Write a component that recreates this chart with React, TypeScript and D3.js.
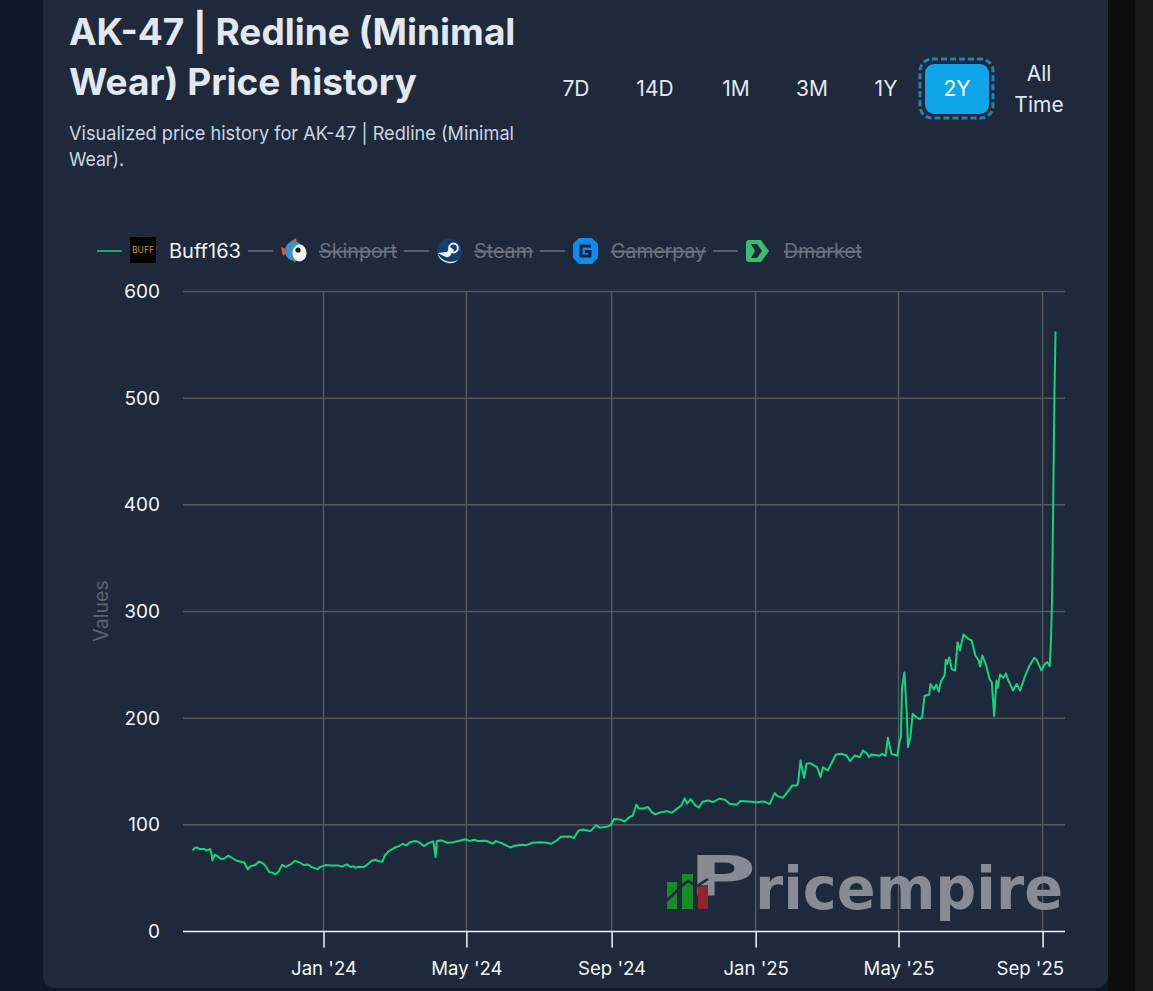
import * as d3 from "d3";
import {useEffect, useRef} from "react";

const ranges = ["7D", "14D", "1M", "3M", "1Y", "2Y"];
const legendNames = ["Buff163", "Skinport", "Steam", "Gamerpay", "Dmarket"];
const yTicks = [0, 100, 200, 300, 400, 500, 600];
const xTicks = [new Date(2024, 0, 1), new Date(2024, 4, 1), new Date(2024, 8, 1), new Date(2025, 0, 1), new Date(2025, 4, 2), new Date(2025, 8, 1)];

// days counted from 1 Jan 2024
const priceDays = [
  -111, -109, -107, -105, -101, -99, -96, -95, -94, -92, -90, -87, -84, -81, -79, -74, -70, -67, -64, -62,
  -57, -55, -52, -49, -46, -43, -41, -38, -35, -32, -28, -24, -19, -17, -13, -10, -5, -3, 2, 6,
  12, 16, 20, 23, 25, 27, 30, 34, 37, 41, 44, 47, 50, 52, 55, 60, 64, 67, 70, 73,
  78, 81, 85, 89, 93, 95, 96, 100, 105, 110, 116, 120, 124, 127, 131, 138, 143, 146, 151, 158,
  162, 168, 172, 177, 184, 189, 193, 198, 201, 209, 212, 216, 220, 226, 231, 234, 239, 243, 246, 251,
  255, 259, 262, 265, 267, 271, 275, 278, 281, 285, 291, 295, 299, 303, 306, 308, 311, 315, 318, 321,
  326, 330, 335, 340, 344, 350, 353, 360, 367, 373, 378, 382, 385, 389, 395, 397, 401, 402, 404, 407,
  409, 412, 418, 421, 423, 427, 430, 434, 439, 443, 446, 450, 454, 457, 460, 462, 464, 471, 473, 476,
  478, 481, 486, 488, 489, 490, 492, 494, 495, 497, 499, 502, 505, 507, 509, 513, 514, 517, 519, 521,
  523, 526, 527, 528, 530, 532, 535, 537, 539, 542, 546, 549, 552, 555, 556, 558, 561, 564, 566, 568,
  570, 571, 573, 576, 578, 580, 584, 587, 590, 594, 598, 602, 604, 608, 611, 613, 615, 616, 617, 618, 619, 620,
];
const priceValues = [
  75.9, 78.4, 78.7, 77.2, 77.2, 75.9, 77.2, 73.4, 66.5, 71.9, 70.9, 67.8, 68.4, 70.9, 70, 66.5, 65.3, 64.4, 58.1, 60.9,
  62.8, 65.3, 64.4, 61.2, 55.6, 55, 53.4, 56.2, 62.5, 60.6, 62.8, 66.2, 64, 62.2, 62.8, 60.3, 58.4, 60.3, 62.2, 61.9,
  61.9, 60.9, 62.8, 60.3, 61.2, 59.7, 60.6, 60.3, 62.5, 66.5, 67.2, 65.6, 65.6, 71.2, 75, 78.4, 80, 82.2, 80.6, 83.7,
  84.7, 83.7, 80, 82.8, 84.4, 69.7, 84.7, 85.3, 83.1, 83.7, 85.3, 86.5, 84.7, 85.9, 84.7, 85, 82.2, 84.7, 82.8, 78.7,
  80.3, 81.2, 80.9, 83.1, 83.7, 83.1, 82.2, 85.6, 88.7, 89, 87.5, 94.7, 95.6, 94, 99.7, 97.2, 97.8, 99.4, 105.3, 105,
  103.1, 107.2, 108.7, 119, 115.3, 115.3, 116.6, 111.9, 109.7, 111.5, 112.8, 111.2, 114.7, 118, 124.7, 119.7, 124, 118, 116.2, 121.5,
  122.8, 121.2, 124.4, 123.4, 119.7, 118.7, 122.2, 121.9, 121.2, 121.9, 119.4, 129.7, 126.6, 125.3, 133.7, 136.9, 136.9, 140, 160.3, 144,
  157.2, 157.8, 154, 144.7, 154, 150.9, 157.2, 165.9, 166.5, 165, 159.7, 165, 163.4, 169.7, 167.2, 163.4, 165.9, 164.7, 166.5, 164.7,
  181.5, 166.5, 164.7, 179, 182, 229, 242.8, 204, 172.8, 182, 204, 201, 199, 201, 221, 222, 232, 227, 231.5, 225,
  234.7, 240, 254.7, 251, 257, 246, 244.7, 271, 263.4, 278.4, 274.4, 272.8, 258.7, 254, 248.4, 258.7, 250.3, 236.9, 233.7, 202,
  235.3, 228.4, 241, 237.8, 242, 235.3, 226, 232, 226, 239, 249.4, 256.5, 254.7, 244.7, 250.9, 252.5, 248.7, 269.7, 310.3, 400, 500, 562.5,
];

const uiFont = "Inter, 'Noto Sans', sans-serif";
const left = 183, right = 1065, top = 291.6, bottom = 931.4;
const gridColor = "#55585f";
const lineColor = "#10d67f";
const mutedText = "#6b7280";
const cardColor = "#1e293b";

const rangeX = [576, 655, 736, 812, 886, 957];
const legendLineX = [97, 248, 404, 540, 713];
const legendIconX = [130, 281, 437, 573, 746];
const legendTextX = [169, 319, 474, 611, 784];
const legendTextW = [72, 78, 59, 95, 78];

const LegendIcon = ({name, x}: {name: string; x: number}) => {
  if (name === "Buff163") {
    return (
      <g transform={`translate(${x},237)`}>
        <rect width={26} height={26} fill="#000" />
        <text x={13} y={16} textAnchor="middle" fontSize={8.5} fontFamily={uiFont} fill="#d8921c">BUFF</text>
      </g>
    );
  }
  if (name === "Skinport") {
    return (
      <g transform={`translate(${x},238)`}>
        <path d="M0 9 L8 12 L2 18 Z" fill="#e2592b" />
        <path d="M9 4 L15 0 L16 6 Z" fill="#e2592b" />
        <path d="M12 20 L18 20 L13 25 Z" fill="#e2592b" />
        <ellipse cx={13} cy={13} rx={9} ry={10} fill="#3a93c4" />
        <ellipse cx={18.5} cy={15} rx={7} ry={8.5} fill="#f4f4f4" />
        <circle cx={17} cy={12} r={2.6} fill="#111" />
      </g>
    );
  }
  if (name === "Steam") {
    return (
      <g transform={`translate(${x},238)`}>
        <circle cx={12.5} cy={13} r={12.5} fill="#123f70" />
        <path d="M0.5 15 L9 19 A4 4 0 0 0 14 16 L17 12 L13 9 L10 14 Z M0.5 15 A12.5 12.5 0 0 0 22 21 A14 14 0 0 1 0.5 15 Z" fill="#f2f5f8" />
        <circle cx={16.5} cy={10} r={4.4} fill="none" stroke="#f2f5f8" strokeWidth={2} />
      </g>
    );
  }
  if (name === "Gamerpay") {
    return (
      <g transform={`translate(${x},238)`}>
        <path d="M6 0 H19 L25 6 V20 L19 26 H6 L0 20 V6 Z" fill="#0b8df0" />
        <path d="M18 8 H8 V18 H17 V13.5 H12" fill="none" stroke="#14233a" strokeWidth={3} />
      </g>
    );
  }
  return (
    <g transform={`translate(${x},240)`}>
      <path d="M3 0 H15 L23 11 L15 22 H3 Q0 22 0 19 V3 Q0 0 3 0 Z" fill="#3dbb6f" />
      <path d="M5 4 H11 L16 11 L11 18 H5 L9 11 Z" fill={cardColor} />
    </g>
  );
};

const App = () => {
  const xAxisRef = useRef<SVGGElement>(null);
  const yAxisRef = useRef<SVGGElement>(null);

  const xScale = d3.scaleTime().domain([new Date(2023, 8, 4), new Date(2025, 8, 20)]).range([left, right]);
  const yScale = d3.scaleLinear().domain([0, 600]).range([bottom, top]);

  const points = priceDays.map((d, i) => ({date: new Date(2024, 0, 1 + d), value: priceValues[i]}));
  const priceLine = d3.line<{date: Date; value: number}>()
    .x((d) => xScale(d.date))
    .y((d) => yScale(d.value));

  useEffect(() => {
    const xAxis = d3.axisBottom(xScale)
      .tickValues(xTicks)
      .tickFormat((d) => d3.timeFormat("%b '%y")(d as Date))
      .tickSize(16)
      .tickPadding(14);
    const yAxis = d3.axisLeft(yScale).tickValues(yTicks).tickSize(0).tickPadding(23);

    const gx = d3.select(xAxisRef.current).call(xAxis as any);
    gx.select(".domain").attr("stroke", "#f1f5f9").attr("stroke-width", 1.5).attr("d", `M${left},0H${right}`);
    gx.selectAll(".tick line").attr("stroke", "#f1f5f9").attr("stroke-width", 1.5);
    gx.selectAll(".tick text").attr("fill", "#f1f5f9").attr("font-size", 18.6).attr("font-family", uiFont);
    // last label is pushed back so it stays inside the plot
    gx.selectAll(".tick:last-of-type text").attr("text-anchor", "end").attr("x", 21);

    const gy = d3.select(yAxisRef.current).call(yAxis as any);
    gy.select(".domain").remove();
    gy.selectAll(".tick text").attr("fill", "#f1f5f9").attr("font-size", 19).attr("font-family", uiFont);
  }, []);

  return (
    <svg width={1153} height={991} style={{position: "fixed", left: 0, top: 0, display: "block"}}>
      <rect width={1153} height={991} fill="#0f172a" />
      <rect x={1108} width={27} height={991} fill="#0d0d0e" />
      <rect x={1135} width={18} height={991} fill="#181818" />
      <rect x={43} y={-20} width={1065} height={1008} rx={12} fill={cardColor} />

      <g fontFamily={uiFont} fill="#e2e8f0" fontWeight={700} fontSize={37}>
        <text x={69} y={45}>AK-47 | Redline (Minimal</text>
        <text x={69} y={95}>Wear) Price history</text>
      </g>
      <g fontFamily={uiFont} fill="#cbd5e1" fontSize={19}>
        <text x={69} y={140} textLength={445} lengthAdjust="spacingAndGlyphs">Visualized price history for AK-47 | Redline (Minimal</text>
        <text x={69} y={166} textLength={55} lengthAdjust="spacingAndGlyphs">Wear).</text>
      </g>

      <rect x={920} y={59} width={73} height={59} rx={12} fill="none" stroke="#2a7fb5" strokeWidth={3} strokeDasharray="6 3" />
      <rect x={925} y={64} width={64} height={50} rx={9} fill="#0ea5e9" />
      <g fontFamily={uiFont} fontSize={21} textAnchor="middle" fill="#e2e8f0">
        {ranges.map((r, i) => (
          <text key={r} x={rangeX[i]} y={96} fill={r === "2Y" ? "#fff" : "#e2e8f0"}>{r}</text>
        ))}
        <text x={1039} y={81}>All</text>
        <text x={1039} y={112}>Time</text>
      </g>

      {legendNames.map((name, i) => (
        <g key={name}>
          <line x1={legendLineX[i]} x2={legendLineX[i] + 25} y1={251} y2={251} stroke={i === 0 ? lineColor : "#6b7280"} strokeWidth={1.5} />
          <LegendIcon name={name} x={legendIconX[i]} />
          <text
            x={legendTextX[i]}
            y={258}
            fontFamily={uiFont}
            fontSize={19.5}
            textLength={legendTextW[i]}
            lengthAdjust="spacingAndGlyphs"
            fill={i === 0 ? "#f1f5f9" : mutedText}
            textDecoration={i === 0 ? undefined : "line-through"}
          >
            {name}
          </text>
        </g>
      ))}

      {yTicks.filter((t) => t > 0).map((t) => (
        <line key={t} x1={left} x2={right} y1={yScale(t)} y2={yScale(t)} stroke={gridColor} strokeWidth={1.5} />
      ))}
      {xTicks.map((t) => (
        <line key={t.getTime()} x1={xScale(t)} x2={xScale(t)} y1={top} y2={bottom} stroke={gridColor} strokeWidth={1.5} />
      ))}

      <text
        transform="translate(108,611) rotate(-90)"
        textAnchor="middle"
        fontFamily={uiFont}
        fontSize={19.5}
        fill="#5b6472"
      >
        Values
      </text>

      <g ref={xAxisRef} transform={`translate(0,${bottom})`} />
      <g ref={yAxisRef} transform={`translate(${left},0)`} />

      <path d={priceLine(points) ?? ""} fill="none" stroke={lineColor} strokeWidth={2} strokeLinejoin="round" />

      <g>
        <text fontFamily="'DejaVu Sans', sans-serif" fontWeight={700} fill="#868b95">
          <tspan x={689} y={895} fontSize={56} textLength={67} lengthAdjust="spacingAndGlyphs">P</tspan>
          <tspan x={755} y={909} fontSize={58} textLength={308} lengthAdjust="spacingAndGlyphs">ricempire</tspan>
        </text>
        <rect x={667} y={882} width={10} height={27} fill="#178a26" />
        <rect x={682} y={874} width={11} height={35} fill="#178a26" />
        <rect x={698} y={885} width={10} height={24} fill="#8f2429" />
        <polyline points="665,902 683,885 688,881 697,886 708,879" fill="none" stroke={cardColor} strokeWidth={2.5} />
      </g>
    </svg>
  );
};

export default App;
